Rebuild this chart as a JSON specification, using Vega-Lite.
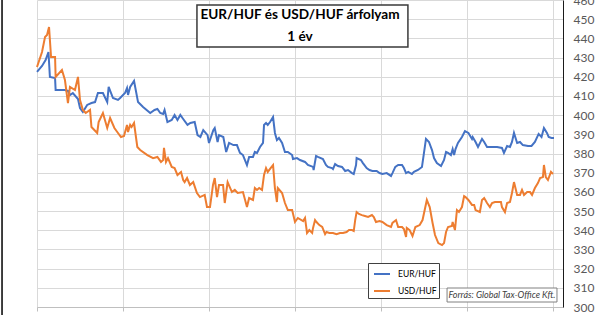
{
 "$schema": "https://vega.github.io/schema/vega-lite/v6.json",
 "width": 526, "height": 307,
 "autosize": {"type": "none"},
 "padding": {"left": 37, "top": 0, "right": 37, "bottom": 8},
 "background": "white",
 "config": {"view": {"stroke": null}, "font": "Lato"},
 "title": {"text": ["EUR/HUF és USD/HUF árfolyam", "1 év"], "font": "Lato", "fontSize": 13.6, "fontWeight": "bold", "color": "#000000", "anchor": "middle", "orient": "top", "offset": -48, "dy": 2, "lineHeight": 22, "zindex": 1},
 "datasets": {
  "rates": [
{"s":"EUR/HUF","d":0,"v":422.5},{"s":"EUR/HUF","d":3.5,"v":425.6},{"s":"EUR/HUF","d":6,"v":428.7},{"s":"EUR/HUF","d":8,"v":432.9},{"s":"EUR/HUF","d":9,"v":419.9},{"s":"EUR/HUF","d":12.6,"v":419.3},{"s":"EUR/HUF","d":13,"v":413.1},{"s":"EUR/HUF","d":19.5,"v":413.1},{"s":"EUR/HUF","d":21.6,"v":412.6},{"s":"EUR/HUF","d":23,"v":410.5},{"s":"EUR/HUF","d":25,"v":411.5},{"s":"EUR/HUF","d":28.6,"v":408.4},{"s":"EUR/HUF","d":30,"v":403.7},{"s":"EUR/HUF","d":32,"v":401.6},{"s":"EUR/HUF","d":35,"v":405.3},{"s":"EUR/HUF","d":38,"v":406.3},{"s":"EUR/HUF","d":40.5,"v":406.8},{"s":"EUR/HUF","d":42.5,"v":411.5},{"s":"EUR/HUF","d":46,"v":411.5},{"s":"EUR/HUF","d":49,"v":406.8},{"s":"EUR/HUF","d":50,"v":414.7},{"s":"EUR/HUF","d":53,"v":408.9},{"s":"EUR/HUF","d":56.5,"v":407.9},{"s":"EUR/HUF","d":58,"v":408.9},{"s":"EUR/HUF","d":61.4,"v":411.5},{"s":"EUR/HUF","d":62.8,"v":414.1},{"s":"EUR/HUF","d":63.5,"v":410.5},{"s":"EUR/HUF","d":65,"v":414.7},{"s":"EUR/HUF","d":67.7,"v":417.8},{"s":"EUR/HUF","d":70.5,"v":406.8},{"s":"EUR/HUF","d":74,"v":404.2},{"s":"EUR/HUF","d":79,"v":401.1},{"s":"EUR/HUF","d":82,"v":402.7},{"s":"EUR/HUF","d":84,"v":403.2},{"s":"EUR/HUF","d":86,"v":401.1},{"s":"EUR/HUF","d":88,"v":400.6},{"s":"EUR/HUF","d":89,"v":402.7},{"s":"EUR/HUF","d":91,"v":396.4},{"s":"EUR/HUF","d":94,"v":397.5},{"s":"EUR/HUF","d":96,"v":400.1},{"s":"EUR/HUF","d":98,"v":397.5},{"s":"EUR/HUF","d":100,"v":400.1},{"s":"EUR/HUF","d":102,"v":398.0},{"s":"EUR/HUF","d":105,"v":394.9},{"s":"EUR/HUF","d":107,"v":395.9},{"s":"EUR/HUF","d":110,"v":396.4},{"s":"EUR/HUF","d":112,"v":389.6},{"s":"EUR/HUF","d":114,"v":388.6},{"s":"EUR/HUF","d":116,"v":392.2},{"s":"EUR/HUF","d":119,"v":389.6},{"s":"EUR/HUF","d":120,"v":385.5},{"s":"EUR/HUF","d":123,"v":392.2},{"s":"EUR/HUF","d":124,"v":393.3},{"s":"EUR/HUF","d":126,"v":386.0},{"s":"EUR/HUF","d":127,"v":389.6},{"s":"EUR/HUF","d":130,"v":388.6},{"s":"EUR/HUF","d":132,"v":380.8},{"s":"EUR/HUF","d":134,"v":385.5},{"s":"EUR/HUF","d":137,"v":384.4},{"s":"EUR/HUF","d":139.5,"v":384.4},{"s":"EUR/HUF","d":141.6,"v":380.3},{"s":"EUR/HUF","d":143.7,"v":379.2},{"s":"EUR/HUF","d":146.5,"v":374.0},{"s":"EUR/HUF","d":148,"v":378.2},{"s":"EUR/HUF","d":150.7,"v":378.2},{"s":"EUR/HUF","d":152,"v":380.8},{"s":"EUR/HUF","d":153.5,"v":380.3},{"s":"EUR/HUF","d":155.6,"v":383.4},{"s":"EUR/HUF","d":157.7,"v":385.5},{"s":"EUR/HUF","d":158.4,"v":394.9},{"s":"EUR/HUF","d":159.8,"v":395.9},{"s":"EUR/HUF","d":161,"v":394.9},{"s":"EUR/HUF","d":162.6,"v":396.4},{"s":"EUR/HUF","d":164.7,"v":399.0},{"s":"EUR/HUF","d":166,"v":390.7},{"s":"EUR/HUF","d":167.4,"v":387.0},{"s":"EUR/HUF","d":168.8,"v":388.1},{"s":"EUR/HUF","d":171,"v":385.5},{"s":"EUR/HUF","d":173,"v":380.8},{"s":"EUR/HUF","d":175,"v":380.8},{"s":"EUR/HUF","d":178,"v":379.2},{"s":"EUR/HUF","d":178.6,"v":377.1},{"s":"EUR/HUF","d":181.4,"v":377.6},{"s":"EUR/HUF","d":183.5,"v":376.6},{"s":"EUR/HUF","d":187,"v":375.6},{"s":"EUR/HUF","d":189,"v":374.0},{"s":"EUR/HUF","d":192.6,"v":373.0},{"s":"EUR/HUF","d":193,"v":371.4},{"s":"EUR/HUF","d":194.7,"v":378.7},{"s":"EUR/HUF","d":196,"v":378.2},{"s":"EUR/HUF","d":199.5,"v":377.1},{"s":"EUR/HUF","d":201.6,"v":374.0},{"s":"EUR/HUF","d":203,"v":373.0},{"s":"EUR/HUF","d":205.8,"v":372.4},{"s":"EUR/HUF","d":206.5,"v":371.9},{"s":"EUR/HUF","d":208,"v":374.5},{"s":"EUR/HUF","d":210,"v":373.5},{"s":"EUR/HUF","d":212.8,"v":373.0},{"s":"EUR/HUF","d":215,"v":370.9},{"s":"EUR/HUF","d":217,"v":371.4},{"s":"EUR/HUF","d":219.8,"v":369.8},{"s":"EUR/HUF","d":221,"v":369.3},{"s":"EUR/HUF","d":222.6,"v":374.0},{"s":"EUR/HUF","d":223,"v":377.6},{"s":"EUR/HUF","d":226,"v":376.6},{"s":"EUR/HUF","d":227.4,"v":375.0},{"s":"EUR/HUF","d":230,"v":372.4},{"s":"EUR/HUF","d":232,"v":371.4},{"s":"EUR/HUF","d":234,"v":370.9},{"s":"EUR/HUF","d":237,"v":370.9},{"s":"EUR/HUF","d":239,"v":369.8},{"s":"EUR/HUF","d":241,"v":369.3},{"s":"EUR/HUF","d":244,"v":369.8},{"s":"EUR/HUF","d":247,"v":368.3},{"s":"EUR/HUF","d":248,"v":369.8},{"s":"EUR/HUF","d":250,"v":373.0},{"s":"EUR/HUF","d":252,"v":374.0},{"s":"EUR/HUF","d":254.7,"v":374.0},{"s":"EUR/HUF","d":256,"v":372.4},{"s":"EUR/HUF","d":257.5,"v":369.8},{"s":"EUR/HUF","d":259,"v":370.4},{"s":"EUR/HUF","d":261.6,"v":369.3},{"s":"EUR/HUF","d":263,"v":370.4},{"s":"EUR/HUF","d":265.8,"v":371.4},{"s":"EUR/HUF","d":268.6,"v":373.0},{"s":"EUR/HUF","d":270,"v":380.3},{"s":"EUR/HUF","d":271.4,"v":387.6},{"s":"EUR/HUF","d":273.5,"v":386.0},{"s":"EUR/HUF","d":275.6,"v":381.8},{"s":"EUR/HUF","d":277,"v":377.6},{"s":"EUR/HUF","d":279,"v":375.0},{"s":"EUR/HUF","d":281.9,"v":373.5},{"s":"EUR/HUF","d":284,"v":376.6},{"s":"EUR/HUF","d":285.4,"v":380.8},{"s":"EUR/HUF","d":286.8,"v":380.3},{"s":"EUR/HUF","d":288.8,"v":379.2},{"s":"EUR/HUF","d":290,"v":382.3},{"s":"EUR/HUF","d":291,"v":379.2},{"s":"EUR/HUF","d":292,"v":382.3},{"s":"EUR/HUF","d":293.7,"v":385.5},{"s":"EUR/HUF","d":296.5,"v":388.6},{"s":"EUR/HUF","d":298.6,"v":391.7},{"s":"EUR/HUF","d":301,"v":390.7},{"s":"EUR/HUF","d":303.5,"v":387.6},{"s":"EUR/HUF","d":304,"v":388.6},{"s":"EUR/HUF","d":306,"v":386.0},{"s":"EUR/HUF","d":307.7,"v":383.4},{"s":"EUR/HUF","d":310.5,"v":387.6},{"s":"EUR/HUF","d":312,"v":386.0},{"s":"EUR/HUF","d":314,"v":383.4},{"s":"EUR/HUF","d":317.5,"v":383.4},{"s":"EUR/HUF","d":321,"v":383.4},{"s":"EUR/HUF","d":324.4,"v":382.9},{"s":"EUR/HUF","d":325.8,"v":380.3},{"s":"EUR/HUF","d":328,"v":383.9},{"s":"EUR/HUF","d":330,"v":383.4},{"s":"EUR/HUF","d":331.4,"v":386.0},{"s":"EUR/HUF","d":332.8,"v":390.7},{"s":"EUR/HUF","d":335,"v":385.5},{"s":"EUR/HUF","d":337,"v":386.0},{"s":"EUR/HUF","d":339,"v":384.4},{"s":"EUR/HUF","d":342.6,"v":383.9},{"s":"EUR/HUF","d":345,"v":383.9},{"s":"EUR/HUF","d":347.4,"v":386.0},{"s":"EUR/HUF","d":350,"v":390.2},{"s":"EUR/HUF","d":352,"v":388.6},{"s":"EUR/HUF","d":353.7,"v":393.3},{"s":"EUR/HUF","d":355.8,"v":390.7},{"s":"EUR/HUF","d":357,"v":388.6},{"s":"EUR/HUF","d":359,"v":388.1},{"s":"EUR/HUF","d":360.7,"v":388.1},
{"s":"USD/HUF","d":0,"v":425.1},{"s":"USD/HUF","d":3.5,"v":432.9},{"s":"USD/HUF","d":5.6,"v":440.7},{"s":"USD/HUF","d":7,"v":441.8},{"s":"USD/HUF","d":8.4,"v":445.9},{"s":"USD/HUF","d":9.8,"v":430.3},{"s":"USD/HUF","d":12.6,"v":430.3},{"s":"USD/HUF","d":13,"v":419.9},{"s":"USD/HUF","d":17.4,"v":423.5},{"s":"USD/HUF","d":19.5,"v":418.3},{"s":"USD/HUF","d":21.6,"v":406.3},{"s":"USD/HUF","d":23,"v":414.7},{"s":"USD/HUF","d":26.5,"v":413.1},{"s":"USD/HUF","d":28.6,"v":419.9},{"s":"USD/HUF","d":30,"v":407.9},{"s":"USD/HUF","d":32,"v":402.7},{"s":"USD/HUF","d":34,"v":401.1},{"s":"USD/HUF","d":37,"v":402.7},{"s":"USD/HUF","d":38,"v":393.8},{"s":"USD/HUF","d":42,"v":390.7},{"s":"USD/HUF","d":43,"v":396.4},{"s":"USD/HUF","d":46,"v":401.1},{"s":"USD/HUF","d":49,"v":393.3},{"s":"USD/HUF","d":51,"v":398.5},{"s":"USD/HUF","d":54,"v":393.3},{"s":"USD/HUF","d":56.5,"v":390.7},{"s":"USD/HUF","d":58.6,"v":388.6},{"s":"USD/HUF","d":60.7,"v":389.1},{"s":"USD/HUF","d":62.8,"v":394.9},{"s":"USD/HUF","d":63.5,"v":391.2},{"s":"USD/HUF","d":65,"v":394.9},{"s":"USD/HUF","d":66,"v":393.8},{"s":"USD/HUF","d":67.7,"v":395.9},{"s":"USD/HUF","d":70,"v":383.4},{"s":"USD/HUF","d":72,"v":381.8},{"s":"USD/HUF","d":77,"v":379.2},{"s":"USD/HUF","d":81,"v":377.6},{"s":"USD/HUF","d":84,"v":378.2},{"s":"USD/HUF","d":86.5,"v":375.6},{"s":"USD/HUF","d":88,"v":376.6},{"s":"USD/HUF","d":88.6,"v":382.9},{"s":"USD/HUF","d":90,"v":375.6},{"s":"USD/HUF","d":91.4,"v":377.6},{"s":"USD/HUF","d":94,"v":373.0},{"s":"USD/HUF","d":96,"v":372.4},{"s":"USD/HUF","d":98,"v":368.8},{"s":"USD/HUF","d":100.5,"v":370.4},{"s":"USD/HUF","d":102,"v":366.2},{"s":"USD/HUF","d":103,"v":365.1},{"s":"USD/HUF","d":104.7,"v":367.2},{"s":"USD/HUF","d":106.7,"v":363.6},{"s":"USD/HUF","d":109,"v":365.1},{"s":"USD/HUF","d":111.6,"v":359.4},{"s":"USD/HUF","d":113.7,"v":357.3},{"s":"USD/HUF","d":117,"v":358.4},{"s":"USD/HUF","d":118.6,"v":352.1},{"s":"USD/HUF","d":120.7,"v":352.1},{"s":"USD/HUF","d":122.8,"v":363.6},{"s":"USD/HUF","d":124,"v":367.2},{"s":"USD/HUF","d":125.6,"v":357.3},{"s":"USD/HUF","d":127,"v":363.6},{"s":"USD/HUF","d":129.8,"v":363.6},{"s":"USD/HUF","d":131,"v":354.2},{"s":"USD/HUF","d":133,"v":365.1},{"s":"USD/HUF","d":136,"v":359.9},{"s":"USD/HUF","d":138,"v":361.0},{"s":"USD/HUF","d":140,"v":359.4},{"s":"USD/HUF","d":143.7,"v":359.9},{"s":"USD/HUF","d":146.5,"v":352.1},{"s":"USD/HUF","d":148,"v":356.8},{"s":"USD/HUF","d":150.7,"v":355.8},{"s":"USD/HUF","d":152,"v":362.0},{"s":"USD/HUF","d":153.5,"v":361.0},{"s":"USD/HUF","d":155,"v":362.0},{"s":"USD/HUF","d":157,"v":361.0},{"s":"USD/HUF","d":158.4,"v":368.8},{"s":"USD/HUF","d":159.8,"v":372.4},{"s":"USD/HUF","d":161,"v":370.4},{"s":"USD/HUF","d":163,"v":372.4},{"s":"USD/HUF","d":164.7,"v":374.0},{"s":"USD/HUF","d":166,"v":362.0},{"s":"USD/HUF","d":167.4,"v":354.7},{"s":"USD/HUF","d":168,"v":362.0},{"s":"USD/HUF","d":171,"v":359.4},{"s":"USD/HUF","d":173,"v":354.2},{"s":"USD/HUF","d":175,"v":350.5},{"s":"USD/HUF","d":178,"v":350.5},{"s":"USD/HUF","d":180,"v":344.3},{"s":"USD/HUF","d":182,"v":346.4},{"s":"USD/HUF","d":185.7,"v":344.8},{"s":"USD/HUF","d":187,"v":346.4},{"s":"USD/HUF","d":188.4,"v":338.6},{"s":"USD/HUF","d":190,"v":340.1},{"s":"USD/HUF","d":192,"v":338.6},{"s":"USD/HUF","d":192.6,"v":341.2},{"s":"USD/HUF","d":194,"v":345.3},{"s":"USD/HUF","d":195,"v":344.3},{"s":"USD/HUF","d":197,"v":342.7},{"s":"USD/HUF","d":199,"v":341.7},{"s":"USD/HUF","d":201,"v":338.0},{"s":"USD/HUF","d":202,"v":339.1},{"s":"USD/HUF","d":204,"v":338.6},{"s":"USD/HUF","d":206.5,"v":338.6},{"s":"USD/HUF","d":209,"v":338.0},{"s":"USD/HUF","d":211.4,"v":338.6},{"s":"USD/HUF","d":213.5,"v":338.6},{"s":"USD/HUF","d":216,"v":339.1},{"s":"USD/HUF","d":217.7,"v":340.1},{"s":"USD/HUF","d":219.8,"v":340.1},{"s":"USD/HUF","d":221,"v":339.6},{"s":"USD/HUF","d":222,"v":345.3},{"s":"USD/HUF","d":223,"v":349.5},{"s":"USD/HUF","d":224.6,"v":348.5},{"s":"USD/HUF","d":226.7,"v":347.9},{"s":"USD/HUF","d":228.8,"v":347.4},{"s":"USD/HUF","d":231,"v":346.9},{"s":"USD/HUF","d":233.7,"v":347.9},{"s":"USD/HUF","d":235,"v":346.9},{"s":"USD/HUF","d":236.5,"v":344.3},{"s":"USD/HUF","d":239,"v":344.8},{"s":"USD/HUF","d":241,"v":344.3},{"s":"USD/HUF","d":244,"v":342.7},{"s":"USD/HUF","d":247,"v":341.7},{"s":"USD/HUF","d":248,"v":343.8},{"s":"USD/HUF","d":250.5,"v":345.3},{"s":"USD/HUF","d":252,"v":341.7},{"s":"USD/HUF","d":254.7,"v":341.7},{"s":"USD/HUF","d":256,"v":340.6},{"s":"USD/HUF","d":257.5,"v":336.5},{"s":"USD/HUF","d":258,"v":341.2},{"s":"USD/HUF","d":260,"v":340.1},{"s":"USD/HUF","d":262,"v":337.0},{"s":"USD/HUF","d":264,"v":341.7},{"s":"USD/HUF","d":267,"v":342.7},{"s":"USD/HUF","d":269,"v":345.3},{"s":"USD/HUF","d":272,"v":355.8},{"s":"USD/HUF","d":274,"v":352.1},{"s":"USD/HUF","d":276,"v":343.8},{"s":"USD/HUF","d":277.7,"v":337.5},{"s":"USD/HUF","d":280,"v":333.3},{"s":"USD/HUF","d":282.6,"v":332.3},{"s":"USD/HUF","d":284,"v":333.3},{"s":"USD/HUF","d":285.4,"v":339.1},{"s":"USD/HUF","d":286.8,"v":341.7},{"s":"USD/HUF","d":289.5,"v":342.2},{"s":"USD/HUF","d":290,"v":344.3},{"s":"USD/HUF","d":291.6,"v":340.1},{"s":"USD/HUF","d":293,"v":350.5},{"s":"USD/HUF","d":294.4,"v":349.5},{"s":"USD/HUF","d":296.5,"v":352.1},{"s":"USD/HUF","d":298,"v":357.8},{"s":"USD/HUF","d":299,"v":357.3},{"s":"USD/HUF","d":301,"v":355.8},{"s":"USD/HUF","d":303.5,"v":353.2},{"s":"USD/HUF","d":305,"v":353.2},{"s":"USD/HUF","d":306,"v":350.5},{"s":"USD/HUF","d":309,"v":349.5},{"s":"USD/HUF","d":310.5,"v":355.8},{"s":"USD/HUF","d":312,"v":356.8},{"s":"USD/HUF","d":314,"v":354.2},{"s":"USD/HUF","d":316,"v":352.1},{"s":"USD/HUF","d":317.5,"v":354.2},{"s":"USD/HUF","d":319.5,"v":354.7},{"s":"USD/HUF","d":323.7,"v":354.7},{"s":"USD/HUF","d":324.4,"v":352.1},{"s":"USD/HUF","d":326.5,"v":349.5},{"s":"USD/HUF","d":328,"v":354.2},{"s":"USD/HUF","d":330,"v":354.7},{"s":"USD/HUF","d":331.4,"v":359.4},{"s":"USD/HUF","d":332.8,"v":365.1},{"s":"USD/HUF","d":335,"v":358.4},{"s":"USD/HUF","d":337,"v":358.4},{"s":"USD/HUF","d":338.4,"v":361.0},{"s":"USD/HUF","d":339.8,"v":358.4},{"s":"USD/HUF","d":342,"v":359.9},{"s":"USD/HUF","d":344,"v":359.9},{"s":"USD/HUF","d":345.4,"v":358.4},{"s":"USD/HUF","d":347.4,"v":362.0},{"s":"USD/HUF","d":349.5,"v":364.6},{"s":"USD/HUF","d":351,"v":367.2},{"s":"USD/HUF","d":353,"v":367.7},{"s":"USD/HUF","d":353.7,"v":374.0},{"s":"USD/HUF","d":355,"v":367.7},{"s":"USD/HUF","d":356.5,"v":366.2},{"s":"USD/HUF","d":358.6,"v":370.4},{"s":"USD/HUF","d":360,"v":369.3}
  ]
 },
 "layer": [
  {
   "data": {"name": "rates"},
   "mark": {"type": "line", "strokeWidth": 2},
   "encoding": {
    "x": {"field": "d", "type": "quantitative", "scale": {"domain": [0, 367], "nice": false, "zero": false},
          "axis": {"values": [0, 60, 120, 180, 240, 300, 360], "grid": true, "gridColor": "#d9d9d9", "labels": false, "ticks": true, "tickSize": 4, "tickColor": "#bfbfbf", "domainColor": "#bfbfbf", "title": null}},
    "y": {"field": "v", "type": "quantitative", "scale": {"domain": [300, 460], "nice": false, "zero": false},
          "axis": {"orient": "right", "values": [300,310,320,330,340,350,360,370,380,390,400,410,420,430,440,450,460], "grid": true, "gridColor": "#d9d9d9", "domainColor": "#1a1a1a", "ticks": false, "labelPadding": 10, "labelFont": "Lato", "labelFontSize": 12, "labelColor": "#595959", "title": null, "labelAlign": "left", "labelOverlap": false}},
    "color": {"field": "s", "type": "nominal", "scale": {"domain": ["EUR/HUF", "USD/HUF"], "range": ["#4472C4", "#ED7D31"]},
              "legend": {"orient": "none", "legendX": 331, "legendY": 263, "title": null, "strokeColor": "#404040", "fillColor": "white", "padding": 2, "rowPadding": 3, "symbolType": "stroke", "symbolSize": 256, "symbolStrokeWidth": 2, "symbolOffset": 3, "labelFont": "Lato", "labelFontSize": 8.5, "labelColor": "#000000", "labelOffset": 7}}
   }
  },
  {
   "data": {"values": [{}]},
   "mark": {"type": "rect", "fill": "white", "stroke": "#3a3a3a", "strokeWidth": 1.5},
   "encoding": {
    "x": {"datum": 111.6, "type": "quantitative", "axis": {"values": [0, 60, 120, 180, 240, 300, 360], "grid": true, "gridColor": "#d9d9d9", "labels": false, "ticks": true, "tickSize": 4, "tickColor": "#bfbfbf", "domainColor": "#bfbfbf", "title": null}},
    "x2": {"datum": 258.8},
    "y": {"datum": 457.4, "type": "quantitative", "axis": {"orient": "right", "values": [300,310,320,330,340,350,360,370,380,390,400,410,420,430,440,450,460], "grid": true, "gridColor": "#d9d9d9", "domainColor": "#1a1a1a", "ticks": false, "labelPadding": 10, "labelFont": "Lato", "labelFontSize": 12, "labelColor": "#595959", "title": null, "labelAlign": "left", "labelOverlap": false}},
    "y2": {"datum": 435.5}
   }
  },
  {
   "data": {"values": [{}]},
   "mark": {"type": "rect", "fill": "white", "stroke": "#808080", "strokeWidth": 1, "clip": false},
   "encoding": {
    "x": {"datum": 286.1, "type": "quantitative", "axis": {"values": [0, 60, 120, 180, 240, 300, 360], "grid": true, "gridColor": "#d9d9d9", "labels": false, "ticks": true, "tickSize": 4, "tickColor": "#bfbfbf", "domainColor": "#bfbfbf", "title": null}},
    "x2": {"datum": 362.8},
    "y": {"datum": 309.9, "type": "quantitative", "axis": {"orient": "right", "values": [300,310,320,330,340,350,360,370,380,390,400,410,420,430,440,450,460], "grid": true, "gridColor": "#d9d9d9", "domainColor": "#1a1a1a", "ticks": false, "labelPadding": 10, "labelFont": "Lato", "labelFontSize": 12, "labelColor": "#595959", "title": null, "labelAlign": "left", "labelOverlap": false}},
    "y2": {"datum": 302.6}
   }
  },
  {
   "data": {"values": [{}]},
   "mark": {"type": "text", "text": "Forrás: Global Tax-Office Kft.", "font": "Lato", "fontSize": 9, "fontStyle": "italic", "color": "#404040", "align": "center", "baseline": "middle", "clip": false},
   "encoding": {
    "x": {"datum": 324.4, "type": "quantitative", "axis": {"values": [0, 60, 120, 180, 240, 300, 360], "grid": true, "gridColor": "#d9d9d9", "labels": false, "ticks": true, "tickSize": 4, "tickColor": "#bfbfbf", "domainColor": "#bfbfbf", "title": null}},
    "y": {"datum": 306.2, "type": "quantitative", "axis": {"orient": "right", "values": [300,310,320,330,340,350,360,370,380,390,400,410,420,430,440,450,460], "grid": true, "gridColor": "#d9d9d9", "domainColor": "#1a1a1a", "ticks": false, "labelPadding": 10, "labelFont": "Lato", "labelFontSize": 12, "labelColor": "#595959", "title": null, "labelAlign": "left", "labelOverlap": false}}
   }
  },
  {
   "data": {"values": [{}]},
   "mark": {"type": "rule", "color": "#000000", "strokeWidth": 1.5, "clip": false},
   "encoding": {
    "x": {"datum": -24.4, "type": "quantitative", "axis": {"values": [0, 60, 120, 180, 240, 300, 360], "grid": true, "gridColor": "#d9d9d9", "labels": false, "ticks": true, "tickSize": 4, "tickColor": "#bfbfbf", "domainColor": "#bfbfbf", "title": null}},
    "y": {"datum": 460, "type": "quantitative", "axis": {"orient": "right", "values": [300,310,320,330,340,350,360,370,380,390,400,410,420,430,440,450,460], "grid": true, "gridColor": "#d9d9d9", "domainColor": "#1a1a1a", "ticks": false, "labelPadding": 10, "labelFont": "Lato", "labelFontSize": 12, "labelColor": "#595959", "title": null, "labelAlign": "left", "labelOverlap": false}},
    "y2": {"datum": 295.8}
   }
  }
 ]
}
